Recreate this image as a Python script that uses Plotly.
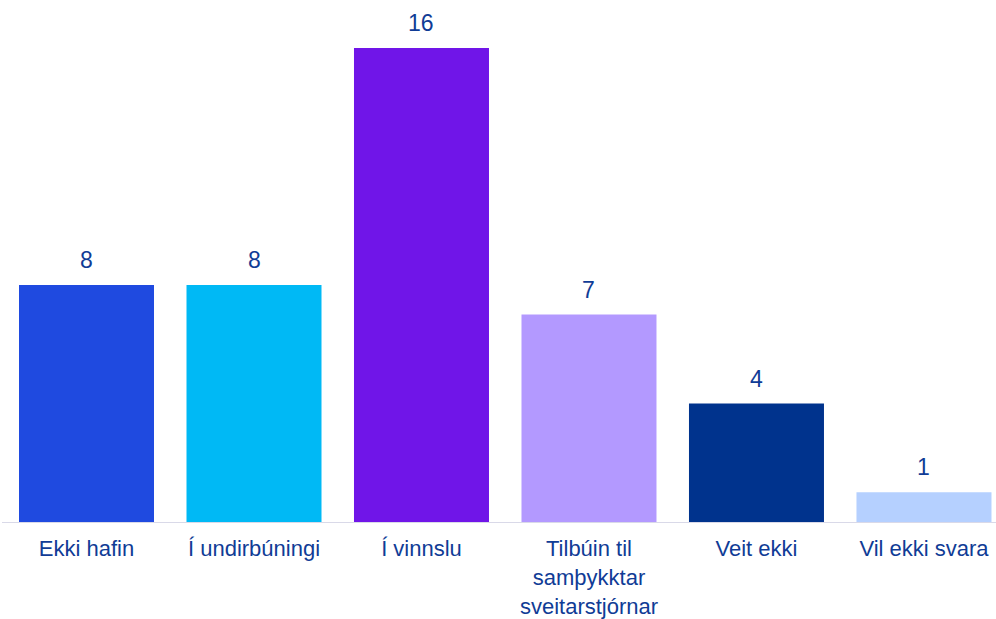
import plotly.graph_objects as go

categories = [
    "Ekki hafin",
    "Í undirbúningi",
    "Í vinnslu",
    "Tilbúin til<br>samþykktar<br>sveitarstjórnar",
    "Veit ekki",
    "Vil ekki svara",
]
counts = [8, 8, 16, 7, 4, 1]
bar_colors = ["#1f4ae0", "#00b9f5", "#7015e8", "#b399ff", "#00338d", "#b5d0ff"]

text_color = "#103c96"
font_family = "Liberation Sans, Arial, sans-serif"
value_font = dict(family=font_family, size=23, color=text_color)
tick_font = dict(family=font_family, size=22, color=text_color)

fig = go.Figure(
    go.Bar(
        x=categories,
        y=counts,
        marker=dict(color=bar_colors, line=dict(width=0)),
        hoverinfo="skip",
    )
)

# value labels above the bars
for cat, val in zip(categories, counts):
    fig.add_annotation(
        x=cat,
        y=val,
        text=str(val),
        showarrow=False,
        yanchor="bottom",
        yshift=10,
        font=value_font,
    )

fig.update_layout(
    width=996,
    height=619,
    margin=dict(l=2, r=0, t=0, b=97, autoexpand=False),
    paper_bgcolor="white",
    plot_bgcolor="white",
    bargap=0.194,
    font=tick_font,
    showlegend=False,
)
fig.update_xaxes(
    range=[-0.5045, 5.43],
    automargin=False,
    showgrid=False,
    showline=True,
    linecolor="#d9d9e8",
    linewidth=1,
    ticks="",
    tickfont=tick_font,
    ticklabelstandoff=7,
)
fig.update_yaxes(range=[0, 17.62], visible=False, automargin=False)

# page body has a default 8px margin; drop it so the figure fills the window
fig.write_html(
    "out.html",
    config={"displayModeBar": False},
    post_script="document.body.style.margin='0';",
)
